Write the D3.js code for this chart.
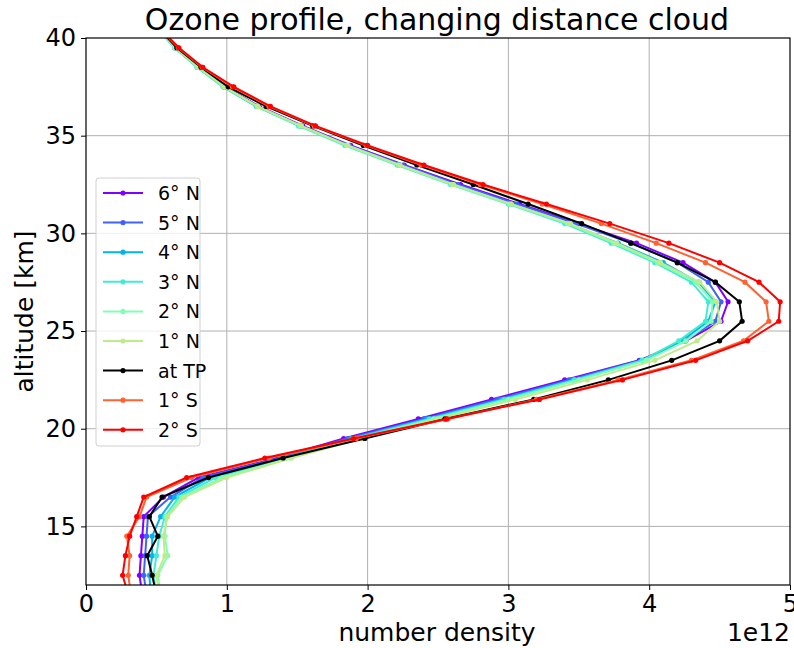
<!DOCTYPE html>
<html>
<head>
<meta charset="utf-8">
<script src="https://cdn.jsdelivr.net/npm/d3@7"></script>
<style>
  body { margin: 0; background: #fff; }
  text { font-family: "DejaVu Sans", sans-serif; }
</style>
</head>
<body>
<div id="chart"></div>
<script>
'use strict'

var width = 794;
var height = 648;
var margin = {left: 86, right: 4, top: 38, bottom: 63};

// altitude levels in km
var altitudes = [11.5, 12.5, 13.5, 14.5, 15.5, 16.5, 17.5, 18.5, 19.5, 20.5, 21.5, 22.5, 23.5, 24.5, 25.5,
  26.5, 27.5, 28.5, 29.5, 30.5, 31.5, 32.5, 33.5, 34.5, 35.5, 36.5, 37.5, 38.5, 39.5, 40.5];

// number density, in units of 1e12
var n6N = [0.40, 0.38, 0.39, 0.40, 0.41, 0.55, 0.80, 1.36, 1.83, 2.36, 2.88, 3.40, 3.93, 4.26, 4.51,
  4.56, 4.47, 4.24, 3.91, 3.50, 3.08, 2.66, 2.26, 1.88, 1.54, 1.23, 0.99, 0.800, 0.635, 0.51];
var n5N = [0.43, 0.41, 0.42, 0.43, 0.44, 0.60, 0.83, 1.38, 1.86, 2.40, 2.92, 3.43, 3.94, 4.25, 4.47,
  4.51, 4.42, 4.20, 3.87, 3.48, 3.06, 2.64, 2.25, 1.87, 1.53, 1.22, 0.98, 0.795, 0.632, 0.51];
var n4N = [0.46, 0.45, 0.47, 0.47, 0.53, 0.63, 0.88, 1.40, 1.88, 2.42, 2.95, 3.46, 3.95, 4.23, 4.42,
  4.47, 4.35, 4.10, 3.78, 3.42, 3.02, 2.61, 2.22, 1.85, 1.52, 1.21, 0.975, 0.790, 0.630, 0.505];
var n3N = [0.50, 0.48, 0.50, 0.52, 0.56, 0.66, 0.92, 1.42, 1.90, 2.44, 2.97, 3.47, 3.95, 4.21, 4.40,
  4.42, 4.30, 4.04, 3.73, 3.40, 3.00, 2.59, 2.21, 1.84, 1.51, 1.21, 0.975, 0.790, 0.630, 0.505];
var n2N = [0.53, 0.51, 0.58, 0.56, 0.57, 0.68, 0.97, 1.45, 1.93, 2.47, 3.00, 3.50, 3.98, 4.26, 4.44,
  4.45, 4.33, 4.06, 3.75, 3.42, 3.01, 2.60, 2.22, 1.85, 1.52, 1.22, 0.98, 0.795, 0.632, 0.51];
var n1N = [0.52, 0.50, 0.56, 0.55, 0.58, 0.70, 1.00, 1.46, 1.96, 2.50, 3.05, 3.56, 4.04, 4.34, 4.50,
  4.48, 4.36, 4.08, 3.77, 3.44, 3.02, 2.61, 2.23, 1.86, 1.53, 1.22, 0.985, 0.800, 0.635, 0.51];
var nTP = [0.50, 0.47, 0.435, 0.51, 0.45, 0.54, 0.87, 1.40, 1.98, 2.55, 3.18, 3.71, 4.16, 4.50, 4.66,
  4.64, 4.47, 4.20, 3.87, 3.52, 3.14, 2.75, 2.35, 1.97, 1.61, 1.28, 1.01, 0.817, 0.645, 0.515];
var n1S = [0.32, 0.30, 0.31, 0.29, 0.38, 0.43, 0.75, 1.30, 1.92, 2.57, 3.20, 3.78, 4.30, 4.67, 4.85,
  4.83, 4.68, 4.40, 4.05, 3.66, 3.24, 2.80, 2.38, 1.99, 1.62, 1.30, 1.04, 0.825, 0.655, 0.52];
var n2S = [0.30, 0.26, 0.28, 0.31, 0.36, 0.41, 0.715, 1.27, 1.90, 2.56, 3.22, 3.81, 4.33, 4.70, 4.92,
  4.93, 4.78, 4.50, 4.14, 3.72, 3.27, 2.82, 2.40, 2.00, 1.63, 1.31, 1.05, 0.830, 0.660, 0.525];

var seriesLabels = ['6° N', '5° N', '4° N', '3° N', '2° N', '1° N', 'at TP', '1° S', '2° S'];
var seriesValues = [n6N, n5N, n4N, n3N, n2N, n1N, nTP, n1S, n2S];
var seriesColors = ['#8000ff', '#4062fa', '#00b5eb', '#40ecd4', '#80ffb4', '#c0eb8d', '#000000', '#ff6232', '#ff0000'];

var xTicks = [0, 1, 2, 3, 4, 5];
var yTicks = [15, 20, 25, 30, 35, 40];

var innerW = width - margin.left - margin.right;
var innerH = height - margin.top - margin.bottom;

var svg = d3.select('#chart').append('svg')
  .attr('width', width)
  .attr('height', height);

var xScale = d3.scaleLinear().domain([0, 5]).range([0, innerW]);
var yScale = d3.scaleLinear().domain([12, 40]).range([innerH, 0]);

var g = svg.append('g')
  .attr('transform', 'translate(' + margin.left + ',' + margin.top + ')');

svg.append('defs').append('clipPath').attr('id', 'clip')
  .append('rect').attr('width', innerW).attr('height', innerH);

// grid
g.append('g').selectAll('line').data(xTicks.slice(1, -1)).enter().append('line')
  .attr('x1', function(d){return xScale(d);}).attr('x2', function(d){return xScale(d);})
  .attr('y1', 0).attr('y2', innerH)
  .attr('stroke', '#b0b0b0').attr('stroke-width', 1);
g.append('g').selectAll('line').data(yTicks.slice(0, -1)).enter().append('line')
  .attr('y1', function(d){return yScale(d);}).attr('y2', function(d){return yScale(d);})
  .attr('x1', 0).attr('x2', innerW)
  .attr('stroke', '#b0b0b0').attr('stroke-width', 1);

// lines
var line = d3.line()
  .x(function(d){return xScale(d[0]);})
  .y(function(d){return yScale(d[1]);});

var plot = g.append('g').attr('clip-path', 'url(#clip)');

seriesValues.forEach(function(vals, i){
  var pts = vals.map(function(v, j){return [v, altitudes[j]];});
  plot.append('path')
    .datum(pts)
    .attr('d', line)
    .attr('fill', 'none')
    .attr('stroke', seriesColors[i])
    .attr('stroke-width', 2);
  plot.selectAll('circle.s' + i).data(pts).enter().append('circle')
    .attr('class', 's' + i)
    .attr('cx', function(d){return xScale(d[0]);})
    .attr('cy', function(d){return yScale(d[1]);})
    .attr('r', 2.6)
    .attr('fill', seriesColors[i]);
});

// axes
var xAxis = g.append('g')
  .attr('transform', 'translate(0,' + innerH + ')')
  .call(d3.axisBottom(xScale).tickValues(xTicks).tickFormat(d3.format('d')).tickSizeOuter(0).tickSize(5).tickPadding(5));
var yAxis = g.append('g')
  .call(d3.axisLeft(yScale).tickValues(yTicks).tickFormat(d3.format('d')).tickSizeOuter(0).tickSize(5).tickPadding(5));
[xAxis, yAxis].forEach(function(ax){
  ax.select('.domain').remove();
  ax.selectAll('text').attr('font-size', 24).attr('fill', '#000').attr('font-family', '"DejaVu Sans", sans-serif');
  ax.selectAll('line').attr('stroke', '#000');
});

// frame
g.append('rect')
  .attr('width', innerW).attr('height', innerH)
  .attr('fill', 'none').attr('stroke', '#000').attr('stroke-width', 1.2);

// title and labels
svg.append('text')
  .attr('x', margin.left + innerW / 2 - 1).attr('y', 30)
  .attr('text-anchor', 'middle').attr('font-size', 30)
  .text('Ozone profile, changing distance cloud');

svg.append('text')
  .attr('x', margin.left + innerW / 2 - 1).attr('y', 641)
  .attr('text-anchor', 'middle').attr('font-size', 25)
  .text('number density');

svg.append('text')
  .attr('x', margin.left + innerW).attr('y', 641)
  .attr('text-anchor', 'end').attr('font-size', 25)
  .text('1e12');

svg.append('text')
  .attr('transform', 'translate(33,' + (margin.top + innerH / 2) + ') rotate(-90)')
  .attr('text-anchor', 'middle').attr('font-size', 25)
  .text('altitude [km]');

// legend
var legend = svg.append('g').attr('transform', 'translate(96,178)');
legend.append('rect')
  .attr('width', 104).attr('height', 268)
  .attr('rx', 3)
  .attr('fill', '#fff').attr('fill-opacity', 0.8)
  .attr('stroke', '#d0d0d0');
seriesLabels.forEach(function(lbl, i){
  var yy = 15 + i * 29.6;
  legend.append('line')
    .attr('x1', 7).attr('x2', 47).attr('y1', yy).attr('y2', yy)
    .attr('stroke', seriesColors[i]).attr('stroke-width', 2);
  legend.append('circle')
    .attr('cx', 27).attr('cy', yy).attr('r', 2.6).attr('fill', seriesColors[i]);
  legend.append('text')
    .attr('x', 62).attr('y', yy + 7).attr('font-size', 19)
    .text(lbl);
});
</script>
</body>
</html>
